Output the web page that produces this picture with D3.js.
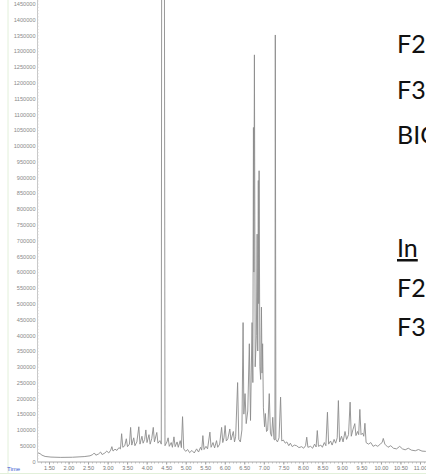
<!DOCTYPE html>
<html>
<head>
<meta charset="utf-8">
<script src="https://cdn.jsdelivr.net/npm/d3@7"></script>
<style>
  html, body { margin: 0; padding: 0; background: #fff; overflow: hidden; }
  svg { display: block; }
</style>
</head>
<body>
<svg id="chart" width="426" height="474"></svg>
<script>
// Total ion chromatogram: retention time (min) and abundance
const retentionTimes = [
  1.22, 1.27, 1.32, 1.40, 1.55, 1.80, 2.10, 2.40, 2.55, 2.62, 2.66, 2.70, 2.77, 2.82, 2.86, 2.93, 2.98, 3.03, 3.08, 3.11,
  3.14, 3.19, 3.24, 3.29, 3.33, 3.36, 3.39, 3.44, 3.48, 3.51, 3.56, 3.59, 3.62, 3.67, 3.70, 3.75, 3.80, 3.83, 3.88, 3.91,
  3.95, 3.98, 4.01, 4.06, 4.09, 4.13, 4.17, 4.20, 4.26, 4.29, 4.34, 4.375, 4.385, 4.455, 4.47, 4.52, 4.55, 4.58, 4.63, 4.66,
  4.70, 4.73, 4.78, 4.81, 4.86, 4.89, 4.92, 4.95, 5.00, 5.05, 5.10, 5.16, 5.22, 5.28, 5.33, 5.38, 5.41, 5.44, 5.47, 5.52,
  5.56, 5.62, 5.65, 5.70, 5.74, 5.79, 5.82, 5.87, 5.92, 5.95, 5.98, 6.01, 6.04, 6.08, 6.13, 6.16, 6.22, 6.25, 6.28, 6.33,
  6.36, 6.40, 6.44, 6.47, 6.49, 6.52, 6.55, 6.59, 6.63, 6.66, 6.70, 6.72, 6.735, 6.745, 6.76, 6.78, 6.81, 6.83, 6.845, 6.86,
  6.87, 6.88, 6.90, 6.92, 6.94, 6.955, 6.97, 6.99, 7.02, 7.04, 7.07, 7.10, 7.14, 7.17, 7.20, 7.23, 7.26, 7.285, 7.295, 7.31,
  7.35, 7.39, 7.43, 7.46, 7.50, 7.55, 7.59, 7.64, 7.68, 7.73, 7.78, 7.84, 7.90, 7.97, 8.02, 8.07, 8.10, 8.13, 8.20, 8.25,
  8.30, 8.34, 8.37, 8.40, 8.46, 8.50, 8.55, 8.59, 8.63, 8.66, 8.71, 8.75, 8.80, 8.84, 8.88, 8.91, 8.94, 8.99, 9.03, 9.08,
  9.12, 9.17, 9.21, 9.24, 9.28, 9.33, 9.36, 9.40, 9.43, 9.46, 9.49, 9.53, 9.56, 9.59, 9.62, 9.68, 9.74, 9.80, 9.86, 9.92,
  9.98, 10.03, 10.06, 10.10, 10.18, 10.25, 10.32, 10.40, 10.48, 10.55, 10.62, 10.70, 10.78, 10.88, 10.96, 11.05, 11.15
];
const abundance = [
  27000, 25000, 20000, 16000, 14000, 13000, 13500, 15500, 18000, 22000, 27000, 20000, 24000, 30000, 22000, 27000, 33000, 27000, 36000, 47000,
  33000, 39000, 35000, 44000, 40000, 88000, 45000, 50000, 72000, 47000, 55000, 108000, 52000, 75000, 50000, 62000, 110000, 55000, 80000, 58000,
  70000, 100000, 60000, 85000, 55000, 72000, 108000, 62000, 92000, 58000, 66000, 55000, 1620000, 1620000, 50000, 62000, 75000, 48000, 60000, 45000,
  78000, 47000, 62000, 45000, 66000, 44000, 142000, 40000, 32000, 38000, 28000, 35000, 27000, 40000, 30000, 45000, 36000, 82000, 38000, 48000,
  40000, 93000, 45000, 60000, 43000, 66000, 45000, 55000, 108000, 60000, 75000, 114000, 65000, 72000, 103000, 68000, 95000, 62000, 80000, 250000,
  70000, 62000, 100000, 440000, 150000, 215000, 120000, 160000, 373000, 130000, 440000, 250000, 1058000, 600000, 1288000, 300000, 400000, 720000, 350000, 890000,
  500000, 921000, 300000, 260000, 489000, 280000, 373000, 170000, 110000, 152000, 95000, 100000, 215000, 90000, 80000, 140000, 70000, 68000, 1351000, 70000,
  62000, 75000, 204000, 65000, 68000, 58000, 62000, 50000, 58000, 47000, 52000, 50000, 44000, 47000, 42000, 50000, 77000, 45000, 48000, 42000,
  55000, 46000, 98000, 48000, 52000, 45000, 60000, 50000, 156000, 55000, 65000, 52000, 70000, 58000, 75000, 193000, 62000, 80000, 62000, 95000,
  70000, 85000, 188000, 80000, 100000, 120000, 82000, 95000, 85000, 165000, 85000, 90000, 80000, 121000, 60000, 55000, 60000, 48000, 52000, 48000,
  55000, 60000, 73000, 55000, 45000, 50000, 42000, 40000, 48000, 40000, 37000, 42000, 36000, 34000, 38000, 33000, 32000
];

// Axis ticks
const timeTicks = [1.5, 2, 2.5, 3, 3.5, 4, 4.5, 5, 5.5, 6, 6.5, 7, 7.5, 8, 8.5, 9, 9.5, 10, 10.5, 11];
const abundanceTicks = d3.range(0, 1450001, 50000);

// Slide text beside the chromatogram
const sideNotes = ["F2", "F3", "BIO"];
const sideNotes2 = ["F2", "F3"];
const sideHeading = "In";

const svg = d3.select("#chart");

const x = d3.scaleLinear().domain([1.5, 11.0]).range([49, 420]);
const y = d3.scaleLinear().domain([0, 1400000]).range([461.5, 19.5]);

// faint frame of the instrument window
svg.append("line").attr("x1", 8).attr("x2", 8).attr("y1", 0).attr("y2", 474)
  .attr("stroke", "#e2f0da").attr("stroke-width", 1);
svg.append("line").attr("x1", 0).attr("x2", 426).attr("y1", 473.5).attr("y2", 473.5)
  .attr("stroke", "#e2f0da").attr("stroke-width", 1);

// y axis
const yAxis = d3.axisLeft(y).tickValues(abundanceTicks).tickSize(0).tickPadding(2)
  .tickFormat(d3.format("d"));
const gy = svg.append("g").attr("transform", "translate(37.5,0)").call(yAxis);
gy.select(".domain").attr("stroke", "#c8c8c8").attr("d", "M0,0V" + y(0));
gy.selectAll("text").attr("font-family", "Liberation Sans, Arial, sans-serif")
  .attr("font-size", 5.6).attr("fill", "#8a8a8a");
// small ticks on the y axis line
svg.append("g").selectAll("line").data(d3.range(0, 1460001, 10000)).join("line")
  .attr("x1", 37.5).attr("x2", 39).attr("y1", d => y(d) + 0.5).attr("y2", d => y(d) + 0.5)
  .attr("stroke", "#d8d8d8").attr("stroke-width", 0.6);

// x axis
const xAxis = d3.axisBottom(x).tickValues(timeTicks).tickSize(2.5).tickPadding(2)
  .tickFormat(d3.format(".2f"));
const gx = svg.append("g").attr("transform", "translate(0," + (y(0) + 0.5) + ")").call(xAxis);
gx.select(".domain").attr("stroke", "#aaa").attr("d", "M37.5,0H426");
gx.selectAll(".tick line").attr("stroke", "#999");
gx.selectAll("text").attr("font-family", "Liberation Sans, Arial, sans-serif")
  .attr("font-size", 5.6).attr("fill", "#777");
// minor time ticks
svg.append("g").selectAll("line").data(d3.range(1.3, 11.15, 0.1)).join("line")
  .attr("x1", d => Math.round(x(d)) + 0.5).attr("x2", d => Math.round(x(d)) + 0.5)
  .attr("y1", y(0) + 0.5).attr("y2", y(0) + 2)
  .attr("stroke", "#aaa").attr("stroke-width", 0.7);

svg.append("text").attr("x", 7).attr("y", 471).text("Time")
  .attr("font-family", "Liberation Sans, Arial, sans-serif").attr("font-size", 6)
  .attr("fill", "#3a5bd0");

// chromatogram trace
const points = retentionTimes.map((t, i) => [t, abundance[i]]);
const line = d3.line().x(d => x(d[0])).y(d => y(d[1]));
svg.append("path").datum(points)
  .attr("d", line)
  .attr("fill", "none")
  .attr("stroke", "#8c8c8c")
  .attr("stroke-width", 0.9)
  .attr("stroke-linejoin", "round");

// side notes, running off the right edge
const font = "Lato, 'Open Sans', sans-serif";
const noteG = svg.append("g").attr("font-family", font).attr("font-size", 25).attr("fill", "#111");
noteG.selectAll("text.a").data(sideNotes).join("text").attr("class", "a")
  .attr("x", 397).attr("y", (d, i) => 53 + i * 45.5).text(d => d);
noteG.append("text").attr("x", 397).attr("y", 257).text(sideHeading)
  .attr("text-decoration", "underline");
noteG.selectAll("text.b").data(sideNotes2).join("text").attr("class", "b")
  .attr("x", 397).attr("y", (d, i) => 297 + i * 39).text(d => d);
</script>
</body>
</html>
